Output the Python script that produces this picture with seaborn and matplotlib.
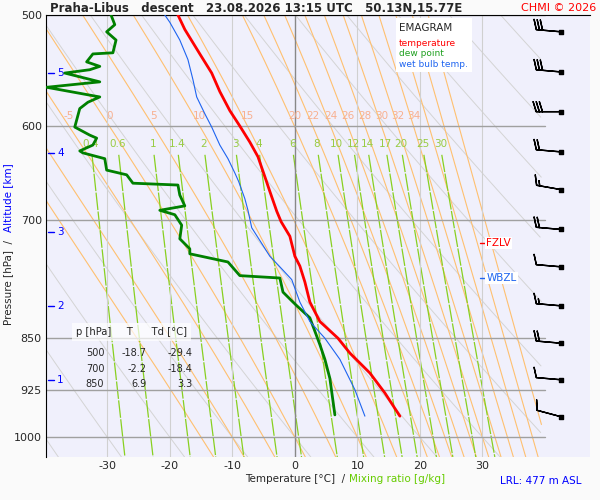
import numpy as np
import pandas as pd
import seaborn as sns
import matplotlib
matplotlib.use("Agg")
import matplotlib.pyplot as plt

# profile data (T in degC, p in hPa)
temp_p = [500, 512, 533, 550, 567, 585, 600, 616, 631, 652, 668, 690, 702, 719, 743, 755,
          775, 801, 827, 850, 871, 900, 930, 966]
temp_t = [-18.7, -17.6, -15.2, -13.3, -12.0, -10.4, -8.8, -7.2, -5.9, -4.8, -4.0, -2.9, -2.2,
          -0.8, 0.0, 0.8, 1.6, 2.4, 4.0, 6.9, 8.8, 12.0, 14.4, 16.8]
dew_p = [500, 508, 514, 521, 532, 533, 540, 544, 547, 550, 558, 563, 572, 577, 583, 601, 609,
         612, 619, 625, 627, 633, 645, 650, 659, 661, 672, 684, 689, 694, 706, 722, 734, 740,
         750, 767, 770, 788, 801, 805, 822, 859, 880, 908, 964]
dew_t = [-29.4, -28.8, -30.1, -28.6, -29.1, -32.3, -33.3, -31.2, -32.8, -36.8, -31.2, -39.7,
         -31.2, -33.1, -34.4, -35.2, -32.8, -31.7, -32.3, -34.4, -33.9, -30.4, -30.1, -26.9,
         -25.9, -18.7, -18.4, -17.6, -21.6, -19.2, -18.1, -18.4, -16.8, -16.8, -10.7, -8.8,
         -2.4, -1.9, -0.3, 0.2, 2.4, 4.0, 4.8, 5.6, 6.4]
wb_p = [500, 506, 521, 538, 556, 572, 588, 601, 619, 633, 648, 657, 676, 689, 709, 724, 743,
        756, 772, 801, 827, 850, 880, 925, 966]
wb_t = [-20.8, -20.0, -18.4, -17.1, -16.3, -15.7, -14.4, -13.3, -12.0, -10.7, -9.6, -9.0, -8.0,
        -7.5, -6.9, -5.6, -4.0, -2.4, -0.5, 0.8, 2.4, 4.8, 7.2, 9.6, 11.2]

# wind barbs
wind_p = [514, 549, 586, 626, 666, 711, 756, 806, 857, 910, 967]
wind_spd = [30, 30, 30, 20, 15, 20, 10, 15, 20, 10, 10]
wind_dir = [275, 275, 270, 275, 280, 275, 275, 275, 275, 275, 285]

# diagram line sets
moist_labels = [-5, 0, 5, 10, 15, 20, 22, 24, 26, 28, 30, 32, 34]
mix_labels = [0.4, 0.6, 1, 1.4, 2, 3, 4, 6, 8, 10, 12, 14, 17, 20, 25, 30]
dry_thetas = list(range(-40, 200, 10))
p_ticks = [500, 600, 700, 850, 925, 1000]
t_ticks = [-30, -20, -10, 0, 10, 20, 30]
alt_km = [1, 2, 3, 4, 5]
alt_p = [910, 806, 714, 627, 550]

table_rows = [("500", "-18.7", "-29.4"), ("700", "-2.2", "-18.4"), ("850", "6.9", "3.3")]

TMIN, TMAX, PBOT, PTOP, TCLIP = -39.8, 47.2, 1033, 500, 39.5

sns.set_style("white")
plt.rcParams['font.family'] = ['DejaVu Sans']
fig = plt.figure(figsize=(6, 5), dpi=100)
ax = fig.add_axes([46 / 600, 43 / 500, 544 / 600, 442 / 500])
ax.set_facecolor("#f0f0fc")
fig.patch.set_facecolor("#fafafa")
ax.set_yscale("log")
ax.set_xlim(TMIN, TMAX)
ax.set_ylim(PBOT, PTOP)

pp = np.geomspace(PTOP, PBOT, 200)


def clip(t, p):
    t = np.array(t, dtype=float)
    t[t > TCLIP] = np.nan
    return t, p


# dry adiabats
for th in dry_thetas:
    t = (th + 273.15) * (pp / 1000) ** 0.286 - 273.15
    ax.plot(*clip(t, pp), color="#d4d4d4", lw=0.7, zorder=1)


# moist adiabats (pseudo)
def lapse(T, p):
    es = 6.112 * np.exp(17.67 * (T - 273.15) / (T - 29.65))
    rs = 0.622 * es / (p - es)
    Lv, Rd, cp, eps = 2.5e6, 287.0, 1004.0, 0.622
    num = Rd * T + Lv * rs
    den = cp + Lv * Lv * rs * eps / (Rd * T * T)
    return num / (den * p)


def moist(thw):
    out = {1000.0: thw + 273.15}
    for direction in (np.geomspace(1000, PTOP, 200), np.geomspace(1000, PBOT, 20)):
        Tc = thw + 273.15
        for i in range(1, len(direction)):
            Tc = Tc + lapse(Tc, direction[i - 1]) * (direction[i] - direction[i - 1])
            out[direction[i]] = Tc
    keys = sorted(out)
    return np.array(keys), np.array([out[k] for k in keys]) - 273.15


for thw in list(range(-15, 20, 5)) + list(range(20, 42, 2)):
    mp, mt = moist(thw)
    ax.plot(*clip(mt, mp), color="#ffc070", lw=0.8, zorder=1)
    if thw in moist_labels:
        t600 = np.interp(600, mp, mt)
        ax.text(t600, 595, str(thw), color="#f8b090", fontsize=7.5, ha="center", va="bottom")


# mixing ratio lines
def td_of_w(w, p):
    e = w * p / (622 + w)
    a = np.log(e / 6.112)
    return 243.5 * a / (17.67 - a)


pm = np.geomspace(629, PBOT, 50)
for w in mix_labels:
    ax.plot(td_of_w(w, pm), pm, color="#88d020", lw=0.9, dashes=(14, 1.2), zorder=1)
    ax.text(td_of_w(w, 620), 618, f"{w:g}", color="#99cc44", fontsize=7.5, ha="center", va="center")

# isotherms / isobars
for t in t_ticks:
    ax.axvline(t, color="#888888" if t == 0 else "#d0d0d0", lw=1 if t == 0 else 0.8, zorder=1)
for p in p_ticks:
    ax.plot([TMIN, TCLIP + 0.5], [p, p], color="#a0a0a0", lw=1, zorder=1)

# profiles
sns.lineplot(x=dew_t, y=dew_p, sort=False, estimator=None, color="#008000", lw=2, ax=ax, zorder=4)
sns.lineplot(x=wb_t, y=wb_p, sort=False, estimator=None, color="#1e64f0", lw=0.8, ax=ax, zorder=4)
sns.lineplot(x=temp_t, y=temp_p, sort=False, estimator=None, color="#ff0000", lw=2, ax=ax, zorder=5)

# wind barbs
wd = np.radians(wind_dir)
u = -np.array(wind_spd) * np.sin(wd)
v = -np.array(wind_spd) * np.cos(wd)
ax.barbs(np.full(len(wind_p), 42.6), wind_p, u, v, length=6, lw=1, color="black",
         sizes=dict(emptybarb=0.1), zorder=5)
ax.scatter(np.full(len(wind_p), 42.6), wind_p, s=8, marker="s", color="black", zorder=6)

# altitude marks
for km, p in zip(alt_km, alt_p):
    ax.plot([TMIN + 0.3, TMIN + 1.3], [p, p], color="blue", lw=1)
    ax.text(TMIN + 1.8, p, str(km), color="blue", fontsize=7.5, va="center")

# FZLV / WBZL
ax.text(30.6, 727, "FZLV", color="red", fontsize=7.5, va="center",
        bbox=dict(fc="white", ec="none", pad=1))
ax.plot([29.6, 30.5], [727, 727], color="red", lw=1)
ax.text(30.6, 770, "WBZL", color="#1e64f0", fontsize=7.5, va="center",
        bbox=dict(fc="white", ec="none", pad=1))
ax.plot([29.6, 30.5], [770, 770], color="#1e64f0", lw=1)

# ticks
ax.set_yticks(p_ticks)
ax.set_yticklabels([str(p) for p in p_ticks], fontsize=8)
ax.yaxis.set_minor_locator(matplotlib.ticker.NullLocator())
ax.set_xticks(t_ticks)
ax.set_xticklabels([str(t) for t in t_ticks], fontsize=8)
ax.tick_params(length=0, pad=3)
for s in ["right", "bottom"]:
    ax.spines[s].set_visible(False)
ax.spines["left"].set_color("black")
ax.spines["top"].set_color("black")

# legend box
ax.add_patch(plt.Rectangle((0.643, 0.872), 0.14, 0.122, transform=ax.transAxes,
                           fc="white", ec="none", zorder=6))
ax.text(0.648, 0.982, "EMAGRAM", transform=ax.transAxes, fontsize=7.5, va="top", zorder=7)
ax.text(0.648, 0.945, "temperature", transform=ax.transAxes, fontsize=6.5, va="top",
        color="red", zorder=7)
ax.text(0.648, 0.922, "dew point", transform=ax.transAxes, fontsize=6.5, va="top",
        color="#20a020", zorder=7)
ax.text(0.648, 0.899, "wet bulb temp.", transform=ax.transAxes, fontsize=6.5, va="top",
        color="#1e64f0", zorder=7)

# table
tx = [0.09, 0.185, 0.27]
ax.text(0.055, 0.283, "p [hPa]     T      Td [°C]", transform=ax.transAxes, fontsize=7.2,
        va="center", bbox=dict(fc="white", ec="none", alpha=0.7, pad=3))
for i, (a, b, c) in enumerate(table_rows):
    y = 0.235 - i * 0.035
    ax.text(tx[0], y, a, transform=ax.transAxes, fontsize=7, ha="center", va="center")
    ax.text(tx[1], y, b, transform=ax.transAxes, fontsize=7, ha="right", va="center")
    ax.text(tx[2], y, c, transform=ax.transAxes, fontsize=7, ha="right", va="center")

# titles and axis labels
fig.text(50 / 600, 1 - 8 / 500, "Praha-Libus   descent   23.08.2026 13:15 UTC   50.13N,15.77E",
         fontsize=8.5, fontweight="bold", va="center")
fig.text(596 / 600, 1 - 8 / 500, "CHMI © 2026", fontsize=8, color="red", ha="right", va="center")
fig.text(8 / 600, 0.52, "Pressure [hPa]  /", rotation=90, fontsize=7.5, ha="center", va="top")
fig.text(8 / 600, 0.535, "Altitude [km]", rotation=90, fontsize=7.5, ha="center", va="bottom",
         color="blue")
fig.text(345 / 600, 1 - 479 / 500, "Temperature [°C]  /", fontsize=7.5, ha="right", va="center")
fig.text(349 / 600, 1 - 479 / 500, "Mixing ratio [g/kg]", fontsize=7.5, ha="left", va="center",
         color="#66cc00")
fig.text(581 / 600, 1 - 481 / 500, "LRL: 477 m ASL", fontsize=7.5, ha="right", va="center",
         color="blue")

fig.savefig("out.png", dpi=100, facecolor=fig.get_facecolor())
